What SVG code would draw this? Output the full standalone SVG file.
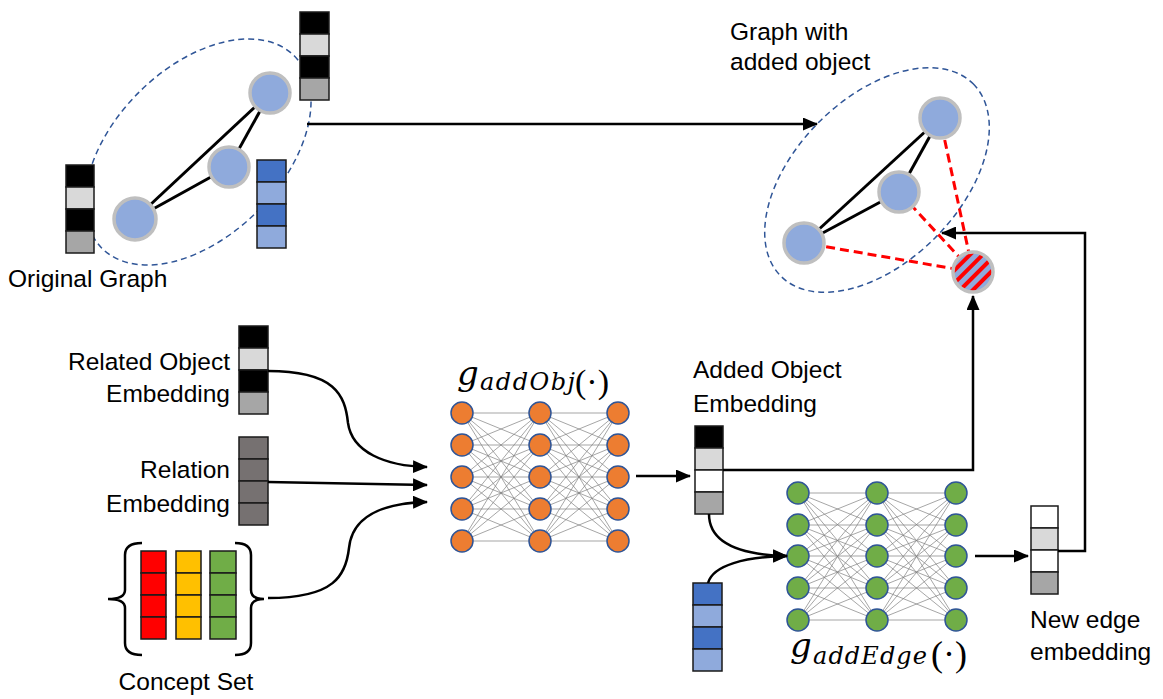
<svg xmlns="http://www.w3.org/2000/svg" width="1163" height="699" viewBox="0 0 1163 699">
<style>
.lbl{font-family:"Liberation Sans",Arial,sans-serif;font-size:24.5px;fill:#000}
.end{text-anchor:end}
.cell{stroke:#1a1a1a;stroke-width:1.5}
.k{fill:#000}.lg{fill:#D9D9D9}.g{fill:#A6A6A6}.w{fill:#fff}.dg{fill:#767171}
.b1{fill:#4472C4}.b2{fill:#8FAADC}
.gn{fill:#8FAADC;stroke:#BFBFBF;stroke-width:3.5}
.ge{stroke:#000;stroke-width:3;fill:none}
.re{stroke:#FF0000;stroke-width:3;stroke-dasharray:9 5;fill:none}
.ell{fill:none;stroke:#2F5597;stroke-width:1.5;stroke-dasharray:6 4}
.con{stroke:#000;stroke-width:2.5;fill:none}
.arr{marker-end:url(#ah)}
.nn{stroke:#808080;stroke-width:0.7;fill:none}
.on{fill:#ED7D31;stroke:#2F5597;stroke-width:1.5}
.gr{fill:#70AD47;stroke:#2F5597;stroke-width:1.5}
.math{font-family:"DejaVu Serif",serif;font-style:italic;fill:#000}
.par{font-family:"Liberation Serif",serif;fill:#000}
</style>
<defs>
<marker id="ah" markerUnits="userSpaceOnUse" markerWidth="15" markerHeight="13" refX="14" refY="6.5" orient="auto">
<path d="M0,0 L15,6.5 L0,13 z" fill="#000"/>
</marker>
<pattern id="stripes" patternUnits="userSpaceOnUse" width="9" height="9" patternTransform="rotate(45)">
<rect width="9" height="9" fill="#8FAADC"/>
<rect width="4" height="9" fill="#FF0000"/>
</pattern>
</defs>
<rect width="1163" height="699" fill="#fff"/>

<g id="original-graph">
<ellipse class="ell" cx="198" cy="152" rx="136" ry="84" transform="rotate(-45 198 152)"/>
<line class="ge" x1="135" y1="219" x2="270" y2="93"/>
<line class="ge" x1="135" y1="219" x2="229" y2="167"/>
<line class="ge" x1="229" y1="167" x2="270" y2="93"/>
<circle class="gn" cx="270" cy="93" r="20"/>
<circle class="gn" cx="229" cy="167" r="20"/>
<circle class="gn" cx="135" cy="219" r="21"/>
<rect class="cell k" x="300" y="12" width="29" height="22"/>
<rect class="cell lg" x="300" y="34" width="29" height="22"/>
<rect class="cell k" x="300" y="56" width="29" height="22"/>
<rect class="cell g" x="300" y="78" width="29" height="22"/>
<rect class="cell k" x="66" y="165" width="28" height="22"/>
<rect class="cell lg" x="66" y="187" width="28" height="22"/>
<rect class="cell k" x="66" y="209" width="28" height="22"/>
<rect class="cell g" x="66" y="231" width="28" height="22"/>
<rect class="cell b1" x="257" y="160" width="29" height="22"/>
<rect class="cell b2" x="257" y="182" width="29" height="22"/>
<rect class="cell b1" x="257" y="204" width="29" height="22"/>
<rect class="cell b2" x="257" y="226" width="29" height="22"/>
<text class="lbl" x="8" y="287">Original Graph</text>
</g>

<g id="graph-with-added-object">
<text class="lbl" x="730" y="40">Graph with</text>
<text class="lbl" x="730" y="70">added object</text>
<ellipse class="ell" cx="877" cy="180" rx="136" ry="82" transform="rotate(-45 877 180)"/>
<line class="ge" x1="804" y1="243" x2="940" y2="118"/>
<line class="ge" x1="804" y1="243" x2="899" y2="192"/>
<line class="ge" x1="899" y1="192" x2="940" y2="118"/>
<line class="re" x1="973" y1="272" x2="940" y2="118"/>
<line class="re" x1="973" y1="272" x2="899" y2="192"/>
<line class="re" x1="973" y1="272" x2="804" y2="243"/>
<circle class="gn" cx="940" cy="118" r="20"/>
<circle class="gn" cx="899" cy="192" r="20"/>
<circle class="gn" cx="804" cy="243" r="20"/>
<circle cx="973" cy="272" r="20" fill="url(#stripes)" stroke="#BFBFBF" stroke-width="3.5"/>
</g>

<g id="related-object-embedding">
<rect class="cell k" x="239" y="326" width="29" height="22"/>
<rect class="cell lg" x="239" y="348" width="29" height="22"/>
<rect class="cell k" x="239" y="370" width="29" height="22"/>
<rect class="cell g" x="239" y="392" width="29" height="22"/>
<text class="lbl end" x="230" y="370">Related Object</text>
<text class="lbl end" x="230" y="402">Embedding</text>
</g>

<g id="relation-embedding">
<rect class="cell dg" x="239" y="437" width="29" height="22"/>
<rect class="cell dg" x="239" y="459" width="29" height="22"/>
<rect class="cell dg" x="239" y="481" width="29" height="22"/>
<rect class="cell dg" x="239" y="503" width="29" height="22"/>
<text class="lbl end" x="230" y="478">Relation</text>
<text class="lbl end" x="230" y="512">Embedding</text>
</g>

<g id="concept-set">
<path class="con" d="M142,543 Q125,543 125,555 L125,590 Q125,599 108,599 Q125,599 125,608 L125,643 Q125,655 142,655"/>
<path class="con" d="M235,543 Q251,543 251,555 L251,590 Q251,599 264,599 Q251,599 251,608 L251,643 Q251,655 235,655"/>
<rect class="cell" fill="#FF0000" x="141" y="551" width="25" height="22"/>
<rect class="cell" fill="#FF0000" x="141" y="573" width="25" height="22"/>
<rect class="cell" fill="#FF0000" x="141" y="595" width="25" height="22"/>
<rect class="cell" fill="#FF0000" x="141" y="617" width="25" height="22"/>
<rect class="cell" fill="#FFC000" x="176" y="551" width="25" height="22"/>
<rect class="cell" fill="#FFC000" x="176" y="573" width="25" height="22"/>
<rect class="cell" fill="#FFC000" x="176" y="595" width="25" height="22"/>
<rect class="cell" fill="#FFC000" x="176" y="617" width="25" height="22"/>
<rect class="cell" fill="#70AD47" x="210" y="551" width="26" height="22"/>
<rect class="cell" fill="#70AD47" x="210" y="573" width="26" height="22"/>
<rect class="cell" fill="#70AD47" x="210" y="595" width="26" height="22"/>
<rect class="cell" fill="#70AD47" x="210" y="617" width="26" height="22"/>
<text class="lbl" x="186" y="690" text-anchor="middle">Concept Set</text>
</g>

<g id="g-addobj">
<path class="nn" d="M462 413L540 413M462 413L540 445M462 413L540 477M462 413L540 509M462 413L540 541M462 445L540 413M462 445L540 445M462 445L540 477M462 445L540 509M462 445L540 541M462 477L540 413M462 477L540 445M462 477L540 477M462 477L540 509M462 477L540 541M462 509L540 413M462 509L540 445M462 509L540 477M462 509L540 509M462 509L540 541M462 541L540 413M462 541L540 445M462 541L540 477M462 541L540 509M462 541L540 541M540 413L618 413M540 413L618 445M540 413L618 477M540 413L618 509M540 413L618 541M540 445L618 413M540 445L618 445M540 445L618 477M540 445L618 509M540 445L618 541M540 477L618 413M540 477L618 445M540 477L618 477M540 477L618 509M540 477L618 541M540 509L618 413M540 509L618 445M540 509L618 477M540 509L618 509M540 509L618 541M540 541L618 413M540 541L618 445M540 541L618 477M540 541L618 509M540 541L618 541"/>
<circle class="on" cx="462" cy="413" r="11"/><circle class="on" cx="462" cy="445" r="11"/><circle class="on" cx="462" cy="477" r="11"/><circle class="on" cx="462" cy="509" r="11"/><circle class="on" cx="462" cy="541" r="11"/>
<circle class="on" cx="540" cy="413" r="11"/><circle class="on" cx="540" cy="445" r="11"/><circle class="on" cx="540" cy="477" r="11"/><circle class="on" cx="540" cy="509" r="11"/><circle class="on" cx="540" cy="541" r="11"/>
<circle class="on" cx="618" cy="413" r="11"/><circle class="on" cx="618" cy="445" r="11"/><circle class="on" cx="618" cy="477" r="11"/><circle class="on" cx="618" cy="509" r="11"/><circle class="on" cx="618" cy="541" r="11"/>
<text class="math" x="457" y="385" font-size="34">g</text>
<text class="math" x="480" y="390" font-size="24" textLength="95" lengthAdjust="spacing">addObj</text>
<text class="par" x="575" y="393" font-size="34">(·)</text>
</g>

<g id="added-object-embedding">
<text class="lbl" x="693" y="378">Added Object</text>
<text class="lbl" x="693" y="412">Embedding</text>
<rect class="cell k" x="695" y="426" width="28" height="22"/>
<rect class="cell lg" x="695" y="448" width="28" height="22"/>
<rect class="cell w" x="695" y="470" width="28" height="22"/>
<rect class="cell g" x="695" y="492" width="28" height="22"/>
</g>

<g id="edge-input-embedding">
<rect class="cell b1" x="693" y="583" width="29" height="22"/>
<rect class="cell b2" x="693" y="605" width="29" height="22"/>
<rect class="cell b1" x="693" y="627" width="29" height="22"/>
<rect class="cell b2" x="693" y="649" width="29" height="22"/>
</g>

<g id="g-addedge">
<path class="nn" d="M798 493L877 493M798 493L877 525M798 493L877 556M798 493L877 588M798 493L877 620M798 525L877 493M798 525L877 525M798 525L877 556M798 525L877 588M798 525L877 620M798 556L877 493M798 556L877 525M798 556L877 556M798 556L877 588M798 556L877 620M798 588L877 493M798 588L877 525M798 588L877 556M798 588L877 588M798 588L877 620M798 620L877 493M798 620L877 525M798 620L877 556M798 620L877 588M798 620L877 620M877 493L956 493M877 493L956 525M877 493L956 556M877 493L956 588M877 493L956 620M877 525L956 493M877 525L956 525M877 525L956 556M877 525L956 588M877 525L956 620M877 556L956 493M877 556L956 525M877 556L956 556M877 556L956 588M877 556L956 620M877 588L956 493M877 588L956 525M877 588L956 556M877 588L956 588M877 588L956 620M877 620L956 493M877 620L956 525M877 620L956 556M877 620L956 588M877 620L956 620"/>
<circle class="gr" cx="798" cy="493" r="11"/><circle class="gr" cx="798" cy="525" r="11"/><circle class="gr" cx="798" cy="556" r="11"/><circle class="gr" cx="798" cy="588" r="11"/><circle class="gr" cx="798" cy="620" r="11"/>
<circle class="gr" cx="877" cy="493" r="11"/><circle class="gr" cx="877" cy="525" r="11"/><circle class="gr" cx="877" cy="556" r="11"/><circle class="gr" cx="877" cy="588" r="11"/><circle class="gr" cx="877" cy="620" r="11"/>
<circle class="gr" cx="956" cy="493" r="11"/><circle class="gr" cx="956" cy="525" r="11"/><circle class="gr" cx="956" cy="556" r="11"/><circle class="gr" cx="956" cy="588" r="11"/><circle class="gr" cx="956" cy="620" r="11"/>
<text class="math" x="790" y="657" font-size="34">g</text>
<text class="math" x="813" y="664" font-size="24" textLength="114" lengthAdjust="spacing">addEdge</text>
<text class="par" x="931" y="666" font-size="36">(·)</text>
</g>

<g id="new-edge-embedding">
<rect class="cell w" x="1031" y="506" width="27" height="22"/>
<rect class="cell lg" x="1031" y="528" width="27" height="22"/>
<rect class="cell w" x="1031" y="550" width="27" height="22"/>
<rect class="cell g" x="1031" y="572" width="27" height="22"/>
<text class="lbl" x="1030" y="628">New edge</text>
<text class="lbl" x="1030" y="660">embedding</text>
</g>

<g id="connectors">
<path class="con arr" d="M307,124 L817,124"/>
<path class="con arr" d="M268,371 C335,371 345,395 348,423 C352,452 385,466 427,467"/>
<path class="con arr" d="M268,482 L427,485"/>
<path class="con arr" d="M268,598 C335,598 346,575 349,548 C352,518 380,503 427,502"/>
<path class="con arr" d="M636,476 L690,476"/>
<path class="con arr" d="M723,470 L973,470 L973,296"/>
<path class="con arr" d="M709,514 C709,545 745,555 787,556"/>
<path class="con arr" d="M708,583 C713,565 745,557 787,556"/>
<path class="con arr" d="M975,556 L1028,556"/>
<path class="con arr" d="M1058,551 L1085,551 L1085,233 L942,233"/>
</g>
</svg>
